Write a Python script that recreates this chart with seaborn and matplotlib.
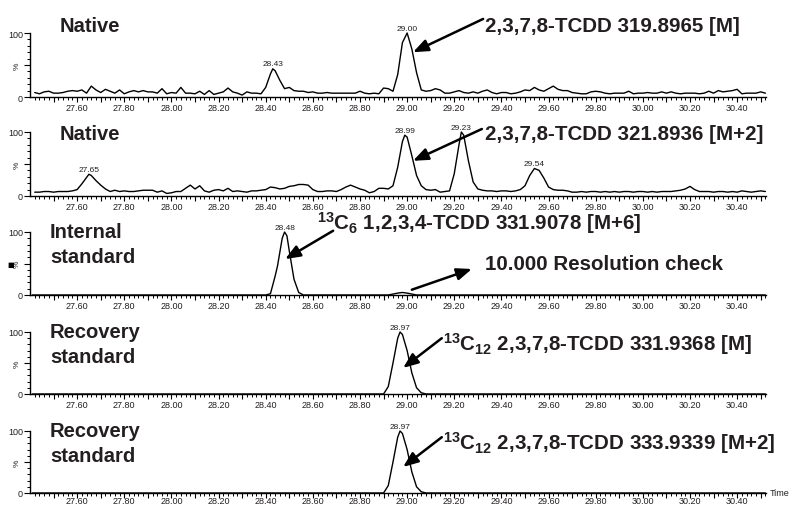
import numpy as np
import pandas as pd
import matplotlib
matplotlib.use("Agg")
import matplotlib.pyplot as plt
from matplotlib.ticker import FixedLocator, MultipleLocator, FuncFormatter
import seaborn as sns

sns.set_style("ticks")
plt.rcParams["font.family"] = ["Liberation Sans", "DejaVu Sans"]
plt.rcParams["mathtext.fontset"] = "custom"
plt.rcParams["mathtext.rm"] = "Liberation Sans:bold"
plt.rcParams["mathtext.it"] = "Liberation Sans:bold"
plt.rcParams["mathtext.bf"] = "Liberation Sans:bold"
plt.rcParams["mathtext.default"] = "rm"

INK = "#231f20"

# ---------------------------------------------------------------------------
# Data: relative intensity (%) against retention time (min)
# ---------------------------------------------------------------------------
scan_times = np.round(np.arange(27.42, 30.521, 0.02), 2)

# 2,3,7,8-TCDD 319.8965 [M]
native_m_pct = [
    7, 5, 8, 9, 6, 6, 7, 9, 10, 9,
    11, 6, 17, 11, 7, 12, 9, 6, 11, 5,
    8, 10, 8, 10, 8, 8, 6, 13, 5, 7,
    6, 15, 6, 6, 5, 9, 4, 10, 4, 6,
    8, 14, 8, 6, 3, 8, 6, 6, 5, 15,
    36, 41, 26, 13, 15, 10, 9, 9, 7, 8,
    6, 6, 7, 6, 6, 6, 6, 6, 6, 9,
    6, 5, 6, 5, 14, 13, 9, 35, 85, 100,
    75, 38, 11, 9, 10, 13, 11, 6, 6, 8,
    10, 7, 6, 8, 6, 9, 11, 7, 5, 7,
    7, 5, 6, 8, 11, 10, 15, 11, 9, 13,
    17, 12, 10, 10, 7, 6, 5, 5, 8, 9,
    8, 6, 5, 6, 6, 6, 9, 5, 6, 6,
    7, 6, 6, 8, 6, 8, 6, 5, 6, 6,
    6, 5, 6, 9, 6, 10, 8, 9, 10, 12,
    5, 6, 6, 6, 8, 6,
]
native_m_apex_times = [28.43]
native_m_apex_pct = [44]
native_m_peaks = [28.43, 29.00]

# 2,3,7,8-TCDD 321.8936 [M+2]
native_m2_pct = [
    6, 6, 7, 7, 6, 7, 7, 7, 8, 10,
    19, 29, 32, 24, 17, 11, 7, 9, 7, 8,
    7, 7, 8, 9, 9, 9, 6, 8, 4, 5,
    7, 7, 12, 17, 11, 16, 8, 6, 9, 10,
    8, 12, 7, 8, 7, 6, 8, 8, 9, 10,
    14, 13, 11, 12, 15, 16, 18, 18, 17, 10,
    7, 7, 8, 8, 7, 10, 14, 17, 14, 11,
    9, 5, 7, 12, 12, 11, 16, 45, 85, 92,
    63, 32, 16, 10, 9, 10, 6, 7, 8, 35,
    80, 95, 55, 22, 11, 9, 8, 8, 7, 8,
    8, 7, 8, 10, 16, 32, 43, 40, 28, 14,
    10, 9, 9, 8, 6, 6, 7, 6, 7, 7,
    6, 7, 6, 7, 6, 7, 7, 6, 7, 7,
    6, 7, 6, 7, 7, 7, 8, 9, 11, 15,
    10, 7, 7, 7, 6, 7, 7, 6, 7, 6,
    8, 7, 6, 7, 8, 7,
]
native_m2_apex_times = [27.65, 28.99, 29.23]
native_m2_apex_pct = [34, 95, 100]
native_m2_peaks = [27.65, 28.99, 29.23, 29.54]

# 13C6 1,2,3,4-TCDD 331.9078 [M+6] (internal standard + resolution check)
internal_times = [27.41, 28.40, 28.42, 28.44, 28.45, 28.47, 28.48, 28.49, 28.50,
                  28.52, 28.54, 28.56, 28.92, 28.96, 28.98, 29.00, 29.04, 30.52]
internal_pct = [0, 0, 2, 30, 46, 90, 100, 94, 70,
                25, 4, 0, 0, 3, 4, 3, 0, 0]
internal_peaks = [28.48]

# 13C12 2,3,7,8-TCDD 331.9368 [M] and 333.9339 [M+2] (recovery standard)
recovery_times = [27.41, 28.90, 28.92, 28.94, 28.96, 28.97, 28.98, 29.00,
                  29.02, 29.04, 29.06, 29.08, 30.52]
recovery_m_pct = [0, 0, 12, 50, 90, 100, 96, 70, 34, 10, 2, 0, 0]
recovery_m2_pct = [0, 0, 12, 50, 90, 100, 96, 70, 34, 10, 2, 0, 0]
recovery_peaks = [28.97]

tick_labels = ["27.60", "27.80", "28.00", "28.20", "28.40", "28.60", "28.80",
               "29.00", "29.20", "29.40", "29.60", "29.80", "30.00", "30.20",
               "30.40"]


def trace_frame(times, pct, extra_times=(), extra_pct=()):
    df = pd.DataFrame({"time": list(times) + list(extra_times),
                       "pct": list(pct) + list(extra_pct)})
    return df.sort_values("time").reset_index(drop=True)


traces = [
    trace_frame(scan_times, native_m_pct, native_m_apex_times, native_m_apex_pct),
    trace_frame(scan_times, native_m2_pct, native_m2_apex_times, native_m2_apex_pct),
    trace_frame(internal_times, internal_pct),
    trace_frame(recovery_times, recovery_m_pct),
    trace_frame(recovery_times, recovery_m2_pct),
]
peak_lists = [native_m_peaks, native_m2_peaks, internal_peaks,
              recovery_peaks, recovery_peaks]

# ---------------------------------------------------------------------------
# Layout
# ---------------------------------------------------------------------------
W, H = 789, 506
fig = plt.figure(figsize=(W / 100, H / 100), dpi=100)
fig.patch.set_facecolor("white")

axis_left, axis_right = 30, 766
panel_bottoms = [98, 197, 296, 395, 494]
panel_heights = [64, 64, 63, 62, 62]
label_pads = [0.6, 0.6, 0.6, 0.6, -1.4]

axes = []
for bottom, height in zip(panel_bottoms, panel_heights):
    ax = fig.add_axes([axis_left / W, 1 - bottom / H,
                       (axis_right - axis_left) / W, height / H])
    axes.append(ax)

label_ticks = [float(t) for t in tick_labels]

for ax, df, peaks, lpad in zip(axes, traces, peak_lists, label_pads):
    sns.lineplot(data=df, x="time", y="pct", ax=ax, color="black",
                 linewidth=1.0, estimator=None, sort=False)
    for ln in ax.lines:
        ln.set_clip_on(False)
    ax.set_xlim(27.40, 30.5225)
    ax.set_ylim(0, 100)
    ax.set_xlabel("")
    ax.set_ylabel("")
    sns.despine(ax=ax)
    for side in ("left", "bottom"):
        ax.spines[side].set_linewidth(1.0)
        ax.spines[side].set_color("black")

    # x ticks: labelled every 0.2, plain every 0.1, small every 0.02
    major = np.round(np.arange(27.50, 30.51, 0.1), 2)
    ax.xaxis.set_major_locator(FixedLocator(major))
    ax.xaxis.set_major_formatter(FuncFormatter(
        lambda v, _: next((s for s, t in zip(tick_labels, label_ticks)
                           if abs(t - v) < 1e-6), "")))
    ax.xaxis.set_minor_locator(FixedLocator(np.round(np.arange(27.42, 30.521, 0.02), 2)))
    ax.tick_params(axis="x", which="major", length=3.5, width=0.8, pad=lpad,
                   labelsize=6.5, colors="black", labelcolor=INK)
    ax.tick_params(axis="x", which="minor", length=2, width=0.7, colors="black")

    # y ticks: 0 / 100 labelled, minor every 10
    ax.yaxis.set_major_locator(FixedLocator([0, 50, 100]))
    ax.yaxis.set_major_formatter(FuncFormatter(
        lambda v, _: {0: "0", 100: "100"}.get(int(round(v)), "")))
    ax.yaxis.set_minor_locator(MultipleLocator(10))
    ax.tick_params(axis="y", which="major", length=4, width=0.8, pad=1,
                   labelsize=6.5, colors="black", labelcolor=INK)
    ax.tick_params(axis="y", which="minor", length=2, width=0.7, colors="black")
    ax.text(-0.0177, 0.5, "%", transform=ax.transAxes, rotation=90,
            ha="center", va="center", fontsize=6, color=INK)

    # retention-time labels above peak apexes
    for t in peaks:
        v = float(df.loc[(df["time"] - t).abs().idxmin(), "pct"])
        ax.annotate(f"{t:.2f}", xy=(t, v), xytext=(0, 1),
                    textcoords="offset points", ha="center", va="bottom",
                    fontsize=6, color=INK, annotation_clip=False)

# ---------------------------------------------------------------------------
# Panel titles
# ---------------------------------------------------------------------------
title_kw = dict(fontsize=14.5, fontweight="bold", color=INK, ha="left",
                va="baseline")
titles = [
    [("Native", 0.0408, 1.036)],
    [("Native", 0.0408, 0.89)],
    [("Internal", 0.0272, 0.916), ("standard", 0.0272, 0.519)],
    [("Recovery", 0.0272, 0.919), ("standard", 0.0272, 0.516)],
    [("Recovery", 0.0272, 0.919), ("standard", 0.0272, 0.516)],
]
for ax, lines in zip(axes, titles):
    for txt, x, y in lines:
        ax.text(x, y, txt, transform=ax.transAxes, **title_kw)

# ---------------------------------------------------------------------------
# Compound annotations with arrows pointing at the peaks
# ---------------------------------------------------------------------------
arrow_kw = dict(arrowstyle="-|>,head_length=0.45,head_width=0.18",
                color="black", lw=1.8, shrinkA=0, shrinkB=0,
                mutation_scale=20)
annotations = [
    (0, "2,3,7,8-TCDD 319.8965 [M]", (29.331, 103.9), (29.3225, 122), (29.025, 70)),
    (1, "2,3,7,8-TCDD 321.8936 [M+2]", (29.331, 89), (29.317, 104.7), (29.025, 55)),
    (2, r"$^{13}$C$_{6}$ 1,2,3,4-TCDD 331.9078 [M+6]", (28.617, 104.8), (28.686, 102), (28.4825, 57)),
    (2, "10.000 Resolution check", (29.331, 41.3), (29.020, 8.4), (29.2745, 41.3)),
    (3, r"$^{13}$C$_{12}$ 2,3,7,8-TCDD 331.9368 [M]", (29.153, 71), (29.147, 90), (28.983, 42)),
    (4, r"$^{13}$C$_{12}$ 2,3,7,8-TCDD 333.9339 [M+2]", (29.153, 71), (29.147, 90), (28.983, 42)),
]
for idx, text, pos, tail, head in annotations:
    ax = axes[idx]
    ax.text(pos[0], pos[1], text, fontsize=14.8, fontweight="bold", color=INK,
            ha="left", va="baseline", clip_on=False)
    ax.annotate("", xy=head, xytext=tail, xycoords="data", textcoords="data",
                arrowprops=arrow_kw, annotation_clip=False)

axes[-1].text(1.0054, 0.01, "Time", transform=axes[-1].transAxes,
              ha="left", va="center", fontsize=6.5, color=INK)
fig.text(11 / W, 1 - 265 / H, "\u25a0", ha="center", va="center",
         fontsize=5, color="black", family="DejaVu Sans")

fig.savefig("out.png", dpi=100, facecolor="white")
